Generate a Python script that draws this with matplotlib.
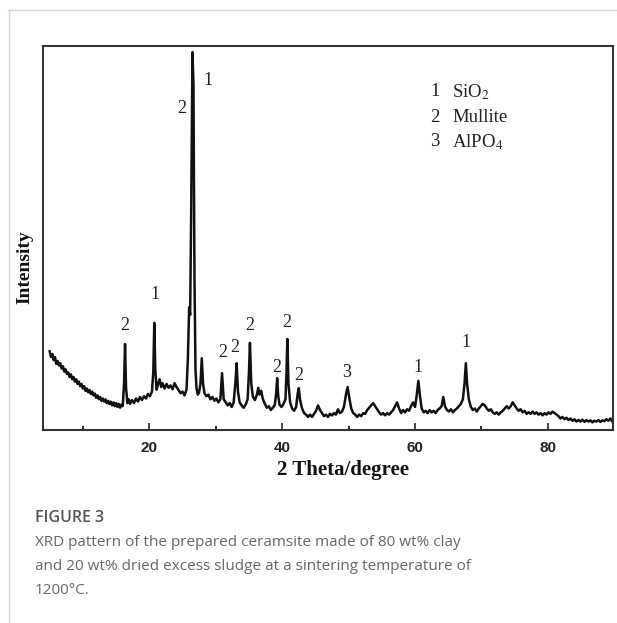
import matplotlib.pyplot as plt
from matplotlib.lines import Line2D

# XRD pattern (2 theta in degrees, intensity in arbitrary units)
two_theta = [
    5.0, 5.2, 5.4, 5.6, 5.8, 6.0, 6.2, 6.4, 6.6, 6.8, 7.0, 7.2, 7.4, 7.6, 7.8,
    8.0, 8.2, 8.4, 8.6, 8.8, 9.0, 9.2, 9.4, 9.6, 9.8, 10.0, 10.2, 10.4, 10.6, 10.8,
    11.0, 11.2, 11.4, 11.6, 11.8, 12.0, 12.2, 12.4, 12.6, 12.8, 13.0, 13.2, 13.4, 13.6, 13.8,
    14.0, 14.2, 14.4, 14.6, 14.8, 15.0, 15.2, 15.4, 15.6, 15.8, 16.0, 16.2, 16.35, 16.5, 16.7,
    16.9, 17.1, 17.4, 17.7, 18.0, 18.3, 18.6, 18.9, 19.2, 19.5, 19.8, 20.1, 20.4, 20.6, 20.75,
    20.9, 21.1, 21.3, 21.55, 21.8, 22.0, 22.3, 22.6, 22.9, 23.2, 23.5, 23.8, 24.1, 24.4, 24.7,
    25.0, 25.3, 25.6, 25.8, 26.0, 26.15, 26.3, 26.5, 26.65, 26.8, 26.95, 27.1, 27.3, 27.5, 27.7,
    27.9, 28.1, 28.3, 28.6, 28.9, 29.2, 29.5, 29.8, 30.1, 30.4, 30.7, 30.95, 31.2, 31.5, 31.8,
    32.1, 32.4, 32.7, 32.95, 33.15, 33.35, 33.6, 33.9, 34.2, 34.5, 34.8, 35.0, 35.15, 35.35, 35.6,
    35.9, 36.2, 36.4, 36.6, 36.85, 37.1, 37.4, 37.7, 38.0, 38.3, 38.6, 38.9, 39.1, 39.25, 39.4,
    39.6, 39.9, 40.2, 40.5, 40.65, 40.78, 40.95, 41.2, 41.5, 41.8, 42.1, 42.35, 42.5, 42.7, 43.0,
    43.3, 43.6, 43.9, 44.2, 44.5, 44.8, 45.1, 45.4, 45.7, 46.0, 46.3, 46.6, 46.9, 47.2, 47.5,
    47.8, 48.1, 48.4, 48.7, 49.0, 49.3, 49.6, 49.85, 50.1, 50.4, 50.7, 51.0, 51.3, 51.6, 51.9,
    52.2, 52.5, 52.8, 53.1, 53.4, 53.7, 54.0, 54.3, 54.6, 54.9, 55.2, 55.5, 55.8, 56.1, 56.4,
    56.7, 57.0, 57.3, 57.6, 57.9, 58.2, 58.5, 58.8, 59.1, 59.4, 59.7, 60.0, 60.25, 60.5, 60.75,
    61.0, 61.3, 61.6, 61.9, 62.2, 62.5, 62.8, 63.1, 63.4, 63.7, 64.0, 64.25, 64.5, 64.8, 65.1,
    65.4, 65.7, 66.0, 66.3, 66.6, 66.9, 67.2, 67.45, 67.65, 67.85, 68.1, 68.4, 68.7, 69.0, 69.3,
    69.6, 69.9, 70.2, 70.5, 70.8, 71.1, 71.4, 71.7, 72.0, 72.3, 72.6, 72.9, 73.2, 73.5, 73.8,
    74.1, 74.4, 74.7, 75.0, 75.3, 75.6, 75.9, 76.2, 76.5, 76.8, 77.1, 77.4, 77.7, 78.0, 78.3,
    78.6, 78.9, 79.2, 79.5, 79.8, 80.1, 80.4, 80.7, 81.0, 81.3, 81.6, 81.9, 82.2, 82.5, 82.8,
    83.1, 83.4, 83.7, 84.0, 84.3, 84.6, 84.9, 85.2, 85.5, 85.8, 86.1, 86.4, 86.7, 87.0, 87.3,
    87.6, 87.9, 88.2, 88.5, 88.8, 89.1, 89.4, 89.7,
]
intensity = [
    205, 190, 198, 182, 190, 172, 180, 168, 174, 160, 166, 152, 158, 146, 150,
    138, 145, 132, 138, 126, 132, 120, 126, 114, 120, 108, 114, 102, 108, 98,
    104, 94, 100, 90, 95, 84, 90, 80, 86, 76, 82, 74, 80, 70, 76,
    68, 74, 64, 72, 62, 70, 60, 68, 58, 66, 62, 120, 224, 110, 70,
    80, 68, 78, 70, 82, 74, 86, 78, 88, 82, 94, 88, 100, 150, 279,
    160, 105, 118, 132, 112, 122, 108, 120, 110, 116, 106, 122, 112, 104, 96,
    100, 90, 105, 180, 320, 300, 560, 984, 900, 400, 160, 110, 92, 98, 120,
    187, 120, 96, 88, 92, 80, 86, 76, 82, 72, 80, 148, 80, 72, 64,
    70, 60, 72, 120, 174, 100, 72, 64, 58, 66, 80, 150, 227, 120, 86,
    78, 92, 110, 92, 102, 80, 68, 58, 62, 52, 58, 66, 96, 135, 90,
    66, 60, 68, 80, 150, 237, 120, 72, 56, 50, 60, 96, 109, 78, 56,
    44, 40, 34, 40, 34, 42, 50, 64, 52, 44, 36, 40, 34, 42, 38,
    44, 40, 54, 44, 48, 60, 92, 112, 84, 56, 44, 40, 34, 40, 36,
    44, 42, 52, 58, 64, 70, 62, 54, 46, 40, 44, 38, 44, 40, 46,
    52, 62, 72, 56, 44, 52, 46, 54, 50, 62, 72, 60, 90, 128, 88,
    56, 46, 50, 44, 52, 46, 50, 44, 52, 56, 62, 86, 62, 52, 48,
    54, 46, 52, 56, 62, 68, 80, 120, 174, 118, 80, 60, 52, 56, 48,
    56, 62, 68, 64, 56, 50, 54, 46, 42, 46, 40, 46, 50, 56, 62,
    56, 62, 72, 64, 56, 50, 54, 46, 50, 42, 46, 42, 48, 42, 46,
    40, 44, 38, 44, 40, 46, 42, 48, 44, 40, 36, 30, 34, 28, 32,
    26, 30, 24, 28, 22, 26, 22, 27, 21, 26, 22, 25, 20, 24, 22,
    26, 21, 25, 23, 28, 24, 30, 22,
]

# phase labels above the peaks: (2 theta, height, text)
peak_x = [16.3, 20.8, 24.9, 28.9, 31.05, 32.9, 35.1, 39.2, 40.7, 42.5, 49.7, 60.5, 67.7]
peak_y = [273, 352, 838, 911, 203, 216, 271, 164, 279, 143, 151, 164, 227]
peak_txt = ['2', '1', '2', '1', '2', '2', '2', '2', '2', '2', '3', '1', '1']

phase_ids = ['1', '2', '3']
phase_names = ['SiO$_2$', 'Mullite', 'AlPO$_4$']

plt.rcParams['mathtext.fontset'] = 'stix'
serif = 'Liberation Serif'

fig = plt.figure(figsize=(6.17, 6.23), dpi=100)
ax = fig.add_axes([43 / 617, 1 - 430 / 623, 570 / 617, 384 / 623])

ax.plot(two_theta, intensity, color='#111', lw=1.8)

for x, y, t in zip(peak_x, peak_y, peak_txt):
    ax.text(x, y, t, ha='center', va='center', family=serif, fontsize=13, color='#222')

ax.set_xlim(4, 89.8)
ax.set_ylim(0, 1000)
ax.set_yticks([])
ax.set_xticks([20, 40, 60, 80])
ax.set_xticks([10, 30, 50, 70], minor=True)
ax.tick_params(axis='x', which='major', direction='in', length=5, width=1.2,
               pad=8, labelsize=11, colors='#222')
ax.tick_params(axis='x', which='minor', direction='in', length=3, width=1.2)
for lab in ax.get_xticklabels():
    lab.set_family('Liberation Sans')
    lab.set_fontweight('bold')
for sp in ax.spines.values():
    sp.set_linewidth(1.5)
    sp.set_color('#333')

# legend text in the upper right
for i, (n, name) in enumerate(zip(phase_ids, phase_names)):
    yy = 1 - (92 + 25 * i) / 623
    fig.text(435 / 617, yy, n, ha='center', va='center', family=serif, fontsize=13.5, color='#222')
    fig.text(452 / 617, yy, name, ha='left', va='center', family=serif, fontsize=13.5, color='#222')

fig.text(343 / 617, 1 - 470 / 623, '2 Theta/degree', ha='center', va='center',
         family=serif, fontweight='bold', fontsize=15, color='#111')
fig.text(25 / 617, 1 - 267 / 623, 'Intensity', ha='center', va='center', rotation=90,
         family=serif, fontweight='bold', fontsize=14, color='#111')

# page frame
fig.add_artist(Line2D([8 / 617, 1], [1 - 10 / 623] * 2, color='#d4d4d4', lw=1))
fig.add_artist(Line2D([9 / 617] * 2, [0, 1 - 10 / 623], color='#d4d4d4', lw=1))

# caption
fig.text(35 / 617, 1 - 518 / 623, 'FIGURE 3', ha='left', va='center',
         family='Open Sans', fontweight='semibold', fontsize=11.5, color='#555')
caption = [
    'XRD pattern of the prepared ceramsite made of 80 wt% clay',
    'and 20 wt% dried excess sludge at a sintering temperature of',
    '1200°C.',
]
for i, line in enumerate(caption):
    fig.text(35 / 617, 1 - (543 + 23.5 * i) / 623, line, ha='left', va='center',
             family='Open Sans', fontsize=11, color='#666')

fig.savefig('out.png', dpi=100)
